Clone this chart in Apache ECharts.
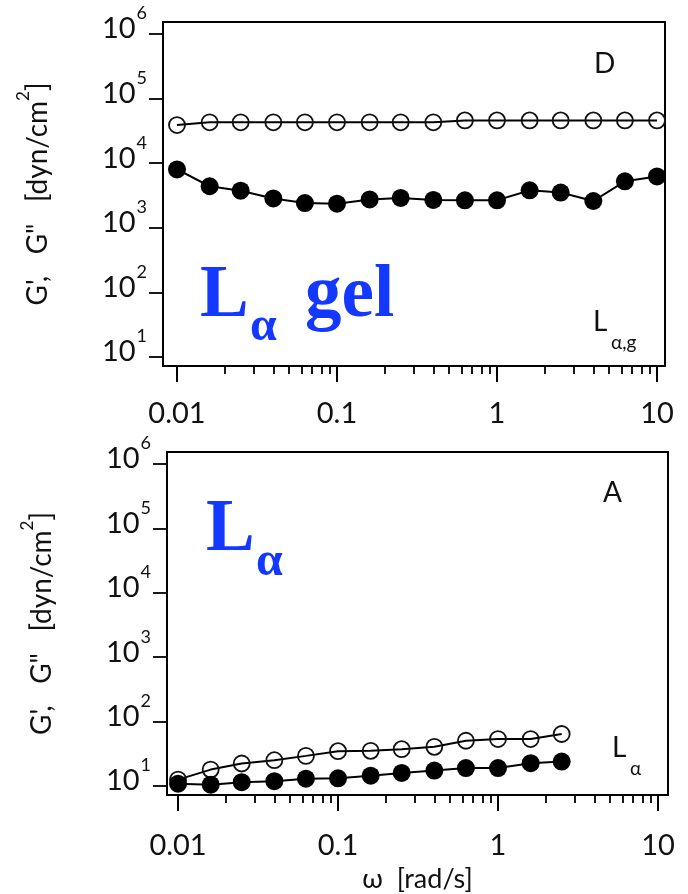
<!DOCTYPE html>
<html>
<head>
<meta charset="utf-8">
<script src="https://cdn.jsdelivr.net/npm/echarts@6/dist/echarts.min.js"></script>
<style>
html,body{margin:0;padding:0;background:#fff;}
#chart{width:688px;height:894px;}
</style>
</head>
<body>
<div id="chart"></div>
<script>
// ---- data ----
var omegaD = [0.01, 0.016, 0.025, 0.04, 0.063, 0.1, 0.16, 0.25, 0.4, 0.63, 1, 1.6, 2.5, 4, 6.3, 10];
var gPrimeD = [39000, 43000, 43000, 43000, 43000, 43000, 43000, 43000, 43000, 46000, 46000, 46000, 46000, 46000, 46000, 46000];
var gDoubleD = [8000, 4400, 3750, 2850, 2420, 2360, 2750, 2900, 2700, 2670, 2670, 3800, 3520, 2600, 5250, 6240];

var omegaA = [0.01, 0.016, 0.025, 0.04, 0.063, 0.1, 0.16, 0.25, 0.4, 0.63, 1, 1.6, 2.5];
var gPrimeA = [12.6, 18, 22.4, 25.2, 29.4, 34.8, 35.2, 37.4, 40.6, 50.5, 53.7, 53.7, 64.3];
var gDoubleA = [10.9, 10.5, 11.5, 11.9, 13.0, 13.2, 14.5, 16.0, 17.4, 19.0, 19.0, 22.6, 24.0];

var xMajorTicks = [0.01, 0.1, 1, 10];
var xMajorLabels = ['0.01', '0.1', '1', '10'];
var xMinorTicks = [0.02,0.03,0.04,0.05,0.06,0.07,0.08,0.09,0.2,0.3,0.4,0.5,0.6,0.7,0.8,0.9,2,3,4,5,6,7,8,9];
var yTicks = [10, 100, 1000, 10000, 100000, 1000000];
var yTickExps = ['1', '2', '3', '4', '5', '6'];

function pairs(xs, ys){ return xs.map(function(x,i){ return [x, ys[i]]; }); }

var FONT = 'Lato';
var SERIF = '"Liberation Serif", "Times New Roman", serif';
var BLUE = '#1438ff';

function fmtY(v){
  var i = -1;
  for (var k = 0; k < yTicks.length; k++) { if (Math.abs(v - yTicks[k]) / yTicks[k] < 1e-6) i = k; }
  return i < 0 ? '' : '{b|10}{s|' + yTickExps[i] + '}';
}
function fmtX(v){
  for (var k = 0; k < xMajorTicks.length; k++) { if (Math.abs(v - xMajorTicks[k]) / xMajorTicks[k] < 1e-6) return xMajorLabels[k]; }
  return '';
}

function yAxis(gi){
  return {
    type: 'log', gridIndex: gi, logBase: 10,
    min: Math.pow(10, 0.861), max: Math.pow(10, 6.186),
    axisLine: {show: true, lineStyle: {color: '#000', width: 2}},
    axisTick: {show: true, inside: false, length: 14, customValues: yTicks, lineStyle: {color: '#000', width: 1.8}},
    minorTick: {show: false},
    splitLine: {show: false},
    axisLabel: {
      customValues: yTicks, formatter: fmtY, margin: 16, padding: [0, 0, 10, 0],
      rich: {
        b: {fontFamily: FONT, fontSize: 29, color: '#111', lineHeight: 29, verticalAlign: 'bottom'},
        s: {fontFamily: FONT, fontSize: 18, color: '#111', lineHeight: 18, verticalAlign: 'bottom', padding: [0, 0, 21, 1]}
      }
    },
    name: '{n|G\',   G"   [dyn/cm}{s|2}{n|]}',
    nameLocation: 'middle', nameRotate: 90, nameGap: 111,
    nameTextStyle: {
      rich: {
        n: {fontFamily: FONT, fontSize: 28, color: '#111', lineHeight: 29, verticalAlign: 'bottom'},
        s: {fontFamily: FONT, fontSize: 17, color: '#111', lineHeight: 17, verticalAlign: 'bottom', padding: [0, 0, 20, 0]}
      }
    }
  };
}
function xMajor(gi, mn, mx, margin, withName){
  var a = {
    type: 'log', gridIndex: gi, position: 'bottom', min: mn, max: mx,
    axisLine: {show: true, lineStyle: {color: '#000', width: 2}},
    axisTick: {show: true, inside: false, length: 16, customValues: xMajorTicks, lineStyle: {color: '#000', width: 2}},
    minorTick: {show: false},
    splitLine: {show: false},
    axisLabel: {customValues: xMajorTicks, formatter: fmtX, margin: margin, fontFamily: FONT, fontSize: 29, color: '#111'}
  };
  if (withName) {
    a.name = 'ω  [rad/s]';
    a.nameLocation = 'middle';
    a.nameGap = 71;
    a.nameTextStyle = {fontFamily: FONT, fontSize: 27, color: '#111'};
  }
  return a;
}
function xMinor(gi, mn, mx){
  return {
    type: 'log', gridIndex: gi, position: 'bottom', min: mn, max: mx,
    axisLine: {show: false},
    axisTick: {show: true, inside: false, length: 8, customValues: xMinorTicks, lineStyle: {color: '#000', width: 1.8}},
    minorTick: {show: false},
    splitLine: {show: false},
    axisLabel: {show: false}
  };
}
function openSeries(xi, yi, data){
  return {
    type: 'line', xAxisIndex: xi, yAxisIndex: yi, data: data,
    symbol: 'circle', symbolSize: 16, showAllSymbol: true,
    lineStyle: {color: '#000', width: 2},
    itemStyle: {color: 'rgba(255,255,255,0)', borderColor: '#111', borderWidth: 1.8},
    emphasis: {disabled: true}, animation: false, z: 2
  };
}
function filledSeries(xi, yi, data){
  return {
    type: 'line', xAxisIndex: xi, yAxisIndex: yi, data: data,
    symbol: 'circle', symbolSize: 18, showAllSymbol: true,
    lineStyle: {color: '#000', width: 2},
    itemStyle: {color: '#000', borderWidth: 0},
    emphasis: {disabled: true}, animation: false, z: 3
  };
}

function txt(x, y, s, font, color){
  return {type: 'text', x: x, y: y, z: 100, style: {text: s, font: font, fill: color || '#111', verticalAlign: 'middle'}};
}

var chart = echarts.init(document.getElementById('chart'), null, {renderer: 'canvas'});
chart.setOption({
  animation: false,
  backgroundColor: '#fff',
  grid: [
    {left: 163, right: 23, top: 22, height: 344, show: true, borderColor: '#000', borderWidth: 2, containLabel: false},
    {left: 167, right: 20, top: 452, height: 343, show: true, borderColor: '#000', borderWidth: 2, containLabel: false}
  ],
  xAxis: [
    xMajor(0, Math.pow(10, -2.0875), Math.pow(10, 1.05), 33, false),
    xMinor(0, Math.pow(10, -2.0875), Math.pow(10, 1.05)),
    xMajor(1, Math.pow(10, -2.069), Math.pow(10, 1.0625), 36, true),
    xMinor(1, Math.pow(10, -2.069), Math.pow(10, 1.0625))
  ],
  yAxis: [yAxis(0), yAxis(1)],
  series: [
    openSeries(0, 0, pairs(omegaD, gPrimeD)),
    filledSeries(0, 0, pairs(omegaD, gDoubleD)),
    openSeries(2, 1, pairs(omegaA, gPrimeA)),
    filledSeries(2, 1, pairs(omegaA, gDoubleA))
  ],
  graphic: [
    txt(594, 64, 'D', '28px ' + FONT),
    txt(593, 322, 'L', '28px ' + FONT),
    txt(611, 343, 'α,g', '19px ' + FONT),
    txt(200, 297, 'L', 'bold 73px ' + SERIF, BLUE),
    txt(250, 328, 'α', 'bold 48px ' + SERIF, BLUE),
    txt(305, 297, 'gel', 'bold 73px ' + SERIF, BLUE),
    txt(603, 493, 'A', '28px ' + FONT),
    txt(206, 531, 'L', 'bold 73px ' + SERIF, BLUE),
    txt(256, 563, 'α', 'bold 48px ' + SERIF, BLUE),
    txt(612, 748, 'L', '28px ' + FONT),
    txt(630, 769, 'α', '19px ' + FONT)
  ]
});
</script>
</body>
</html>
